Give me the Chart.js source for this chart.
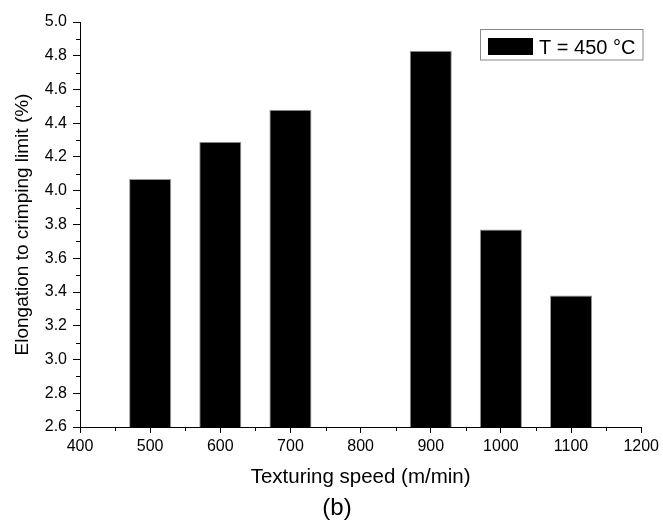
<!DOCTYPE html>
<html lang="en">
<head>
<meta charset="UTF-8">
<title>Elongation to crimping limit</title>
<script src="https://cdn.jsdelivr.net/npm/chart.js@4"></script>
<style>
  html, body { margin: 0; padding: 0; background: #fff; }
  #wrap { width: 663px; height: 527px; position: relative; }
</style>
</head>
<body>
<div id="wrap"><canvas id="chart" width="663" height="527"></canvas></div>
<script>
// texturing speed (m/min) and elongation to crimping limit (%)
var speeds = [500, 600, 700, 900, 1000, 1100];
var elongation = [4.07, 4.29, 4.48, 4.83, 3.77, 3.38];
var seriesLabel = 'T = 450 °C';
var xTicks = [400, 500, 600, 700, 800, 900, 1000, 1100, 1200];
var yTicks = [2.6, 2.8, 3.0, 3.2, 3.4, 3.6, 3.8, 4.0, 4.2, 4.4, 4.6, 4.8, 5.0];

var font = 'Liberation Sans, Arial, sans-serif';

// minor ticks between the labelled ones, plus the boxed legend and "(b)"
var extras = {
  id: 'extras',
  afterDraw: function(chart) {
    var ctx = chart.ctx;
    var x = chart.scales.x, y = chart.scales.y;
    var area = chart.chartArea;
    ctx.save();
    ctx.strokeStyle = '#000';
    ctx.lineWidth = 1;
    ctx.beginPath();
    for (var i = 0; i < yTicks.length - 1; i++) {
      var py = Math.round(y.getPixelForValue((yTicks[i] + yTicks[i + 1]) / 2)) + 0.5;
      ctx.moveTo(area.left, py);
      ctx.lineTo(area.left - 4, py);
    }
    for (var j = 0; j < xTicks.length - 1; j++) {
      var px = Math.round(x.getPixelForValue((xTicks[j] + xTicks[j + 1]) / 2)) + 0.5;
      ctx.moveTo(px, area.bottom);
      ctx.lineTo(px, area.bottom + 4);
    }
    ctx.stroke();

    // legend box
    ctx.strokeStyle = '#888';
    ctx.strokeRect(480.5, 29.5, 162.5, 30.5);
    ctx.fillStyle = '#000';
    ctx.fillRect(488, 38, 45, 17);
    ctx.font = '20px ' + font;
    ctx.textBaseline = 'alphabetic';
    ctx.fillText(chart.data.datasets[0].label, 539, 53.5);

    // panel caption
    ctx.font = '24px ' + font;
    ctx.textAlign = 'center';
    ctx.textBaseline = 'middle';
    ctx.fillText('(b)', 337, 508);
    ctx.restore();
  }
};

new Chart(document.getElementById('chart'), {
  type: 'bar',
  data: {
    datasets: [{
      label: seriesLabel,
      data: speeds.map(function(s, i) { return { x: s, y: elongation[i] }; }),
      backgroundColor: '#000',
      borderColor: '#999',
      borderWidth: 1,
      categoryPercentage: 0.6,
      barPercentage: 1.0
    }]
  },
  plugins: [extras],
  options: {
    responsive: false,
    animation: false,
    layout: { padding: { left: 0, right: 20, top: 22, bottom: 0 } },
    plugins: { legend: { display: false }, tooltip: { enabled: false } },
    scales: {
      x: {
        type: 'linear',
        offset: false,
        min: 400, max: 1200,
        afterBuildTicks: function(scale) {
          scale.ticks = xTicks.map(function(v) { return { value: v }; });
        },
        afterFit: function(scale) { scale.height = 100; },
        grid: { display: true, drawOnChartArea: false, drawTicks: true, tickLength: 6, color: '#000', offset: false },
        border: { display: true, color: '#000', width: 1 },
        ticks: { color: '#000', padding: 4, font: { family: font, size: 16 }, maxRotation: 0,
                 callback: function(v) { return String(v); } },
        title: { display: true, text: 'Texturing speed (m/min)', color: '#000',
                 font: { family: font, size: 20.5 }, padding: { top: 0, bottom: 37 } }
      },
      y: {
        min: 2.6, max: 5.0,
        afterBuildTicks: function(scale) {
          scale.ticks = yTicks.map(function(v) { return { value: v }; });
        },
        afterFit: function(scale) { scale.width = 80; },
        grid: { display: true, drawOnChartArea: false, drawTicks: true, tickLength: 7, color: '#000' },
        border: { display: true, color: '#000', width: 1 },
        ticks: { color: '#000', padding: 6, font: { family: font, size: 16 },
                 callback: function(v) { return v.toFixed(1); } },
        title: { display: true, text: 'Elongation to crimping limit (%)', color: '#000',
                 font: { family: font, size: 19 }, padding: { top: 11, bottom: 0 } }
      }
    }
  }
});
</script>
</body>
</html>
